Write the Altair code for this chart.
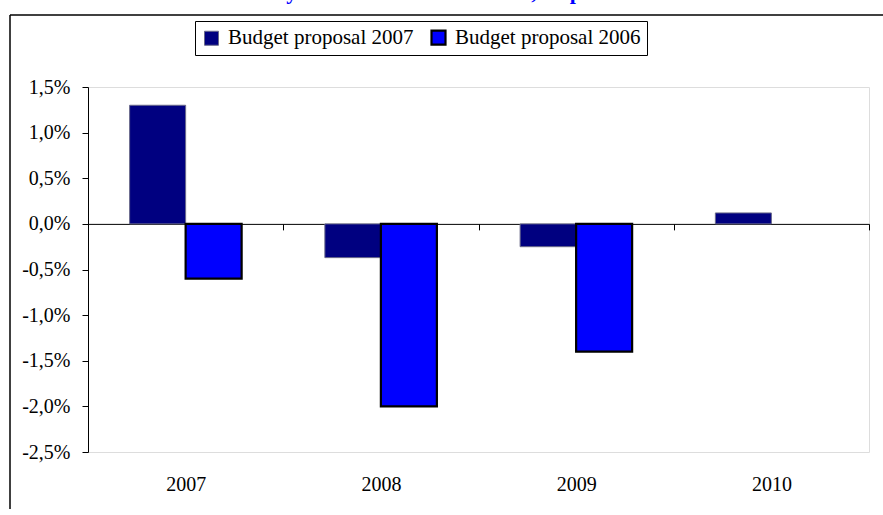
import altair as alt
import pandas as pd

# Budget balance effects by year, two budget proposals (percent)
years = ["2007", "2008", "2009", "2010"]
series_names = ["Budget proposal 2007", "Budget proposal 2006"]
proposal_2007 = [1.30, -0.37, -0.25, 0.12]
proposal_2006 = [-0.60, -2.00, -1.40, None]
y_ticks = [-2.5, -2.0, -1.5, -1.0, -0.5, 0.0, 0.5, 1.0, 1.5]
title_text = "Activity effect of the fiscal stance, % points"

rows = []
for i, yr in enumerate(years):
    rows.append({"year": yr, "series": series_names[0], "value": proposal_2007[i]})
    rows.append({"year": yr, "series": series_names[1], "value": proposal_2006[i]})
df = pd.DataFrame(rows)

FONT = "Liberation Serif"
W, H = 781, 365
PAD = {"left": 88, "top": 87, "right": 14, "bottom": 57}
y_min, y_max = -2.5, 1.5
zero_from_bottom = H * (0 - y_min) / (y_max - y_min)

legend_style = dict(
    title=None,
    orient="none",
    legendX=107,
    legendY=-66,
    direction="horizontal",
    columns=2,
    symbolType="square",
    symbolSize=196,
    labelFont=FONT,
    labelFontSize=21,
    labelColor="black",
    labelLimit=400,
    labelOffset=6,
    columnPadding=13,
    padding=6,
    strokeColor="black",
    fillColor="white",
)

bars = alt.Chart(df).mark_bar().encode(
    x=alt.X(
        "year:N",
        sort=years,
        scale=alt.Scale(paddingInner=0, paddingOuter=0),
        axis=alt.Axis(
            title=None,
            labelAngle=0,
            offset=-zero_from_bottom,
            tickBand="extent",
            tickSize=6,
            labelPadding=245,
            domainColor="black",
            tickColor="black",
            labelFont=FONT,
            labelFontSize=20,
            labelColor="black",
            grid=False,
        ),
    ),
    xOffset=alt.XOffset(
        "series:N",
        sort=series_names,
        scale=alt.Scale(domain=series_names, paddingInner=0, paddingOuter=0.743),
    ),
    y=alt.Y(
        "value:Q",
        scale=alt.Scale(domain=[y_min, y_max], nice=False, zero=True),
        axis=alt.Axis(
            title=None,
            values=y_ticks,
            labelExpr="replace(replace(format(datum.value, '.1f'), '.', ','), '\u2212', '-') + '%'",
            tickSize=6,
            labelPadding=12,
            domainColor="black",
            tickColor="black",
            labelFont=FONT,
            labelFontSize=20,
            labelColor="black",
            grid=False,
        ),
    ),
    color=alt.Color(
        "series:N",
        sort=series_names,
        scale=alt.Scale(domain=series_names, range=["#000080", "#0000FF"]),
        legend=alt.Legend(**legend_style),
    ),
    stroke=alt.Stroke(
        "series:N",
        sort=series_names,
        scale=alt.Scale(domain=series_names, range=["#6a6a8a", "#000000"]),
        legend=alt.Legend(**legend_style),
    ),
    strokeWidth=alt.StrokeWidth(
        "series:N",
        sort=series_names,
        scale=alt.Scale(domain=series_names, range=[1, 2.2]),
        legend=alt.Legend(**legend_style),
    ),
)

# outer frame: left and top edges, kept inside the canvas
frame_left = alt.Chart(alt.Data(values=[{}])).mark_rule(
    color="black", strokeWidth=1.5
).encode(x=alt.value(-78), y=alt.value(-72), y2=alt.value(H + PAD["bottom"]))

frame_top = alt.Chart(alt.Data(values=[{}])).mark_rule(
    color="black", strokeWidth=1.5
).encode(x=alt.value(-78), x2=alt.value(W + PAD["right"]), y=alt.value(-72))

title = alt.Chart(alt.Data(values=[{}])).mark_text(
    text=title_text,
    font=FONT,
    fontSize=22,
    fontWeight="bold",
    color="#0000FF",
    align="center",
    baseline="alphabetic",
).encode(x=alt.value(337), y=alt.value(-88))

chart = (
    alt.layer(frame_left, frame_top, bars, title)
    .properties(
        width=W,
        height=H,
        padding=PAD,
        autosize=alt.AutoSizeParams(type="none"),
    )
    .configure_view(stroke=None)
    .configure(background="white")
)

chart.save("out.html", embed_options={"renderer": "svg", "actions": False})
